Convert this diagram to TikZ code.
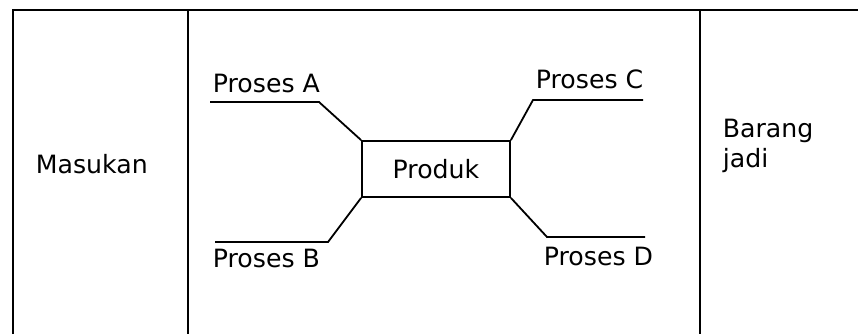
\documentclass[tikz,border=0pt]{standalone}
\usepackage{fontspec}
\setmainfont{DejaVu Sans}
\usepackage{tikz}

\begin{document}
\begin{tikzpicture}[x=0.5pt,y=-0.5pt,line width=0.9pt,
    txt/.style={inner sep=0pt,font=\fontsize{12.6}{15}\selectfont},
    kotak/.style={draw,minimum width=74pt,minimum height=28pt,inner sep=0pt}]
    \useasboundingbox (0,0) rectangle (858,334);
    % tabel
    \coordinate (tl) at (13,10);
    \coordinate (tr) at (858,10);
    \coordinate (bl) at (13,334);
    \draw (bl) -- (tl) -- (tr);
    \draw (188,10) coordinate (s1) -- (188,334) coordinate (s2);
    \draw (700,10) coordinate (s3) -- (700,334) coordinate (s4);
    \node [txt,anchor=base west] (masuk) at (35,173) {Masukan};
    \node [txt,anchor=base west,align=left] (jadi) at (722,167) {Barang\\jadi};
    % produk dan proses
    \node [kotak,txt,draw,minimum width=74pt,minimum height=28pt] (prod) at (436,169) {Produk};
    \coordinate (a1) at (210,102);
    \coordinate (a2) at (319,102);
    \coordinate (b1) at (215,242);
    \coordinate (b2) at (328,242);
    \coordinate (c1) at (643,100);
    \coordinate (c2) at (533,100);
    \coordinate (d1) at (645,237);
    \coordinate (d2) at (547,237);
    \draw (a1) -- (a2) -- (prod.north west);
    \draw (b1) -- (b2) -- (prod.south west);
    \draw (c1) -- (c2) -- (prod.north east);
    \draw (d1) -- (d2) -- (prod.south east);
    \node [txt,anchor=base west] (pa) at (212,92) {Proses A};
    \node [txt,anchor=base west] (pb) at (212,267) {Proses B};
    \node [txt,anchor=base west] (pc) at (535,88) {Proses C};
    \node [txt,anchor=base west] (pd) at (543,265) {Proses D};
\end{tikzpicture}
\end{document}
